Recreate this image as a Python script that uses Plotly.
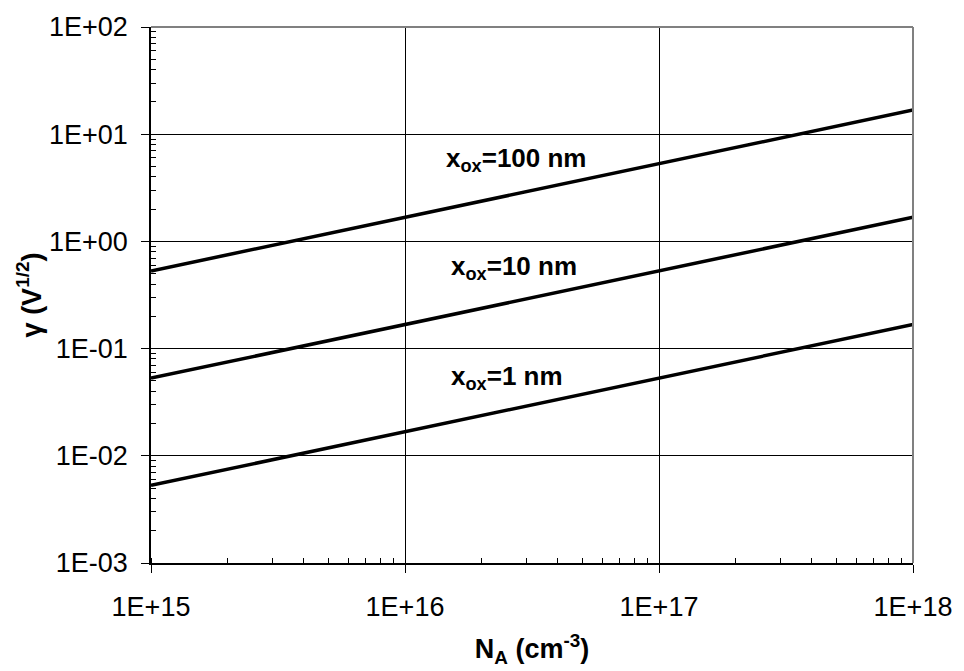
import plotly.graph_objects as go

# Data
na_values = [1e15, 1e16, 1e17, 1e18]
gamma_100nm = [0.53, 1.68, 5.3, 16.8]
gamma_10nm = [0.053, 0.168, 0.53, 1.68]
gamma_1nm = [0.0053, 0.0168, 0.053, 0.168]

x_tick_vals = [1e15, 1e16, 1e17, 1e18]
x_tick_text = ["1E+15", "1E+16", "1E+17", "1E+18"]
y_tick_vals = [1e-3, 1e-2, 1e-1, 1e0, 1e1, 1e2]
y_tick_text = ["1E-03", "1E-02", "1E-01", "1E+00", "1E+01", "1E+02"]

labels = ["x<sub>ox</sub>=100 nm", "x<sub>ox</sub>=10 nm", "x<sub>ox</sub>=1 nm"]
# annotation positions on log axes are given as log10 values
label_logx = [16.44, 16.43, 16.40]
label_logy = [0.76, -0.24, -1.27]

FONT = "Liberation Sans, Arial, sans-serif"

fig = go.Figure()
for ys in (gamma_100nm, gamma_10nm, gamma_1nm):
    fig.add_trace(go.Scatter(x=na_values, y=ys, mode="lines",
                             line=dict(color="black", width=3.5),
                             showlegend=False, hoverinfo="skip"))

for t, xv, yv in zip(labels, label_logx, label_logy):
    fig.add_annotation(x=xv, y=yv, xref="x", yref="y", text="<b>" + t + "</b>",
                       showarrow=False, font=dict(family=FONT, size=26, color="black"))

axis_common = dict(
    type="log",
    showline=True, linecolor="black", linewidth=1.5,
    ticks="outside", ticklen=8, tickcolor="black", tickwidth=1,
    showgrid=True, gridcolor="black", gridwidth=1,
    zeroline=False,
    tickfont=dict(family=FONT, size=27, color="black"),
    minor=dict(dtick="D1", ticks="inside", ticklen=5, tickcolor="black", tickwidth=1, showgrid=False),
)

fig.update_xaxes(range=[15, 18], tickmode="array", tickvals=x_tick_vals, ticktext=x_tick_text,
                 ticklabelstandoff=11,
                 title=dict(text="<b>N<sub>A</sub> (cm<sup>-3</sup>)</b>",
                            font=dict(family=FONT, size=27, color="black"), standoff=18),
                 **axis_common)
fig.update_yaxes(range=[-3, 2], tickmode="array", tickvals=y_tick_vals, ticktext=y_tick_text,
                 ticklabelstandoff=8,
                 title=dict(text="<b>γ (V<sup>1/2</sup>)</b>",
                            font=dict(family=FONT, size=27, color="black"), standoff=0),
                 **axis_common)

# gray top/right frame
fig.add_shape(type="line", xref="paper", yref="paper", x0=0, x1=1, y0=1, y1=1,
              line=dict(color="#808080", width=2), layer="above")
fig.add_shape(type="line", xref="paper", yref="paper", x0=1, x1=1, y0=0, y1=1,
              line=dict(color="#808080", width=2), layer="above")

fig.update_layout(
    width=964, height=671,
    margin=dict(l=151, r=43, t=23, b=104),
    plot_bgcolor="white", paper_bgcolor="white",
    font=dict(family=FONT, color="black"),
)

fig.write_html("out.html", config={"displayModeBar": False},
               post_script="document.body.style.margin='0';document.body.style.overflow='hidden';")
